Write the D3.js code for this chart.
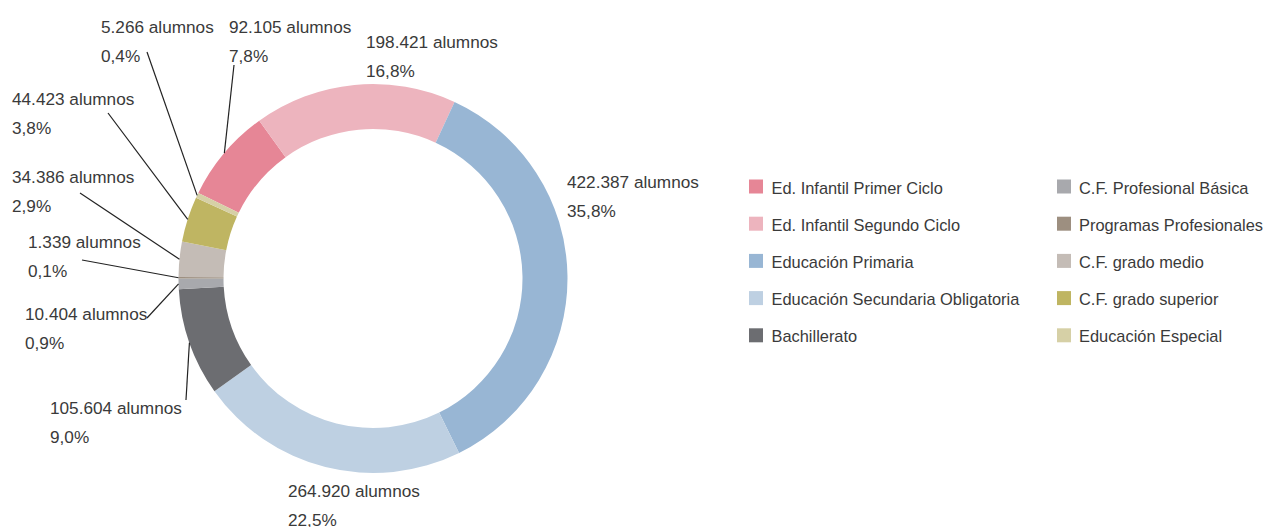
<!DOCTYPE html>
<html>
<head>
<meta charset="utf-8">
<script src="https://cdn.jsdelivr.net/npm/d3@7"></script>
<style>
  body { margin: 0; background: #fff; }
  text { font-family: "Liberation Sans", Arial, sans-serif; fill: #3a3a3a; }
</style>
</head>
<body>
<div id="chart"></div>
<script>
// data
const categories = ["Ed. Infantil Primer Ciclo", "Ed. Infantil Segundo Ciclo", "Educación Primaria",
  "Educación Secundaria Obligatoria", "Bachillerato", "C.F. Profesional Básica",
  "Programas Profesionales", "C.F. grado medio", "C.F. grado superior", "Educación Especial"];
const alumnos = [92105, 198421, 422387, 264920, 105604, 10404, 1339, 34386, 44423, 5266];
const colors = ["#e68696", "#edb4be", "#98b6d4", "#bed0e2", "#6c6d71",
  "#a8a9ad", "#9d8f80", "#c4bcb6", "#bfb562", "#d6d0a6"];

// hand placed label anchors (text x, first baseline y, leader start or null)
const labelPos = [
  {x: 229, y: 33, lx: 234, ly: 65},
  {x: 366, y: 48, lx: null},
  {x: 567, y: 188, lx: null},
  {x: 288, y: 497, lx: null},
  {x: 50, y: 414, lx: 186, ly: 400},
  {x: 25, y: 320, lx: 147, ly: 318},
  {x: 28, y: 248, lx: 82, ly: 260},
  {x: 12, y: 183, lx: 80, ly: 193},
  {x: 12, y: 105, lx: 108, ly: 113},
  {x: 101, y: 33, lx: 147, ly: 52}
];

const width = 1268, height = 527;
const cx = 373, cy = 278.5, rOuter = 194.5, rInner = 149.5;

const es = d3.formatLocale({decimal: ",", thousands: ".", grouping: [3], currency: ["", " €"]});
const fmtNum = es.format(",d");
const fmtPct = es.format(".1f");
const total = d3.sum(alumnos);

const svg = d3.select("#chart").append("svg")
  .attr("width", width).attr("height", height);

const pie = d3.pie().sort(null).value(d => d)
  .startAngle(-63.9 * Math.PI / 180)
  .endAngle((360 - 63.9) * Math.PI / 180);
const arcs = pie(alumnos);
const arc = d3.arc().innerRadius(rInner).outerRadius(rOuter);

const g = svg.append("g").attr("transform", `translate(${cx},${cy})`);
g.selectAll("path")
  .data(arcs)
  .join("path")
  .attr("d", arc)
  .attr("fill", (d, i) => colors[i]);

// leader lines
arcs.forEach((d, i) => {
  const p = labelPos[i];
  if (p.lx == null) return;
  const a = (d.startAngle + d.endAngle) / 2;
  svg.append("line")
    .attr("x1", p.lx).attr("y1", p.ly)
    .attr("x2", cx + rOuter * Math.sin(a))
    .attr("y2", cy - rOuter * Math.cos(a))
    .attr("stroke", "#222")
    .attr("stroke-width", 1.2);
});

// labels
const labels = svg.selectAll("text.lbl")
  .data(arcs)
  .join("text")
  .attr("class", "lbl")
  .style("font-size", "17.2px");
labels.append("tspan")
  .attr("x", (d, i) => labelPos[i].x)
  .attr("y", (d, i) => labelPos[i].y)
  .text(d => fmtNum(d.data) + " alumnos");
labels.append("tspan")
  .attr("x", (d, i) => labelPos[i].x)
  .attr("y", (d, i) => labelPos[i].y + 29)
  .text(d => fmtPct(d.data / total * 100) + "%");

// legend
const legend = svg.append("g");
const item = legend.selectAll("g")
  .data(categories)
  .join("g")
  .attr("transform", (d, i) => `translate(${i < 5 ? 749 : 1057},${179.5 + (i % 5) * 37.2})`);
item.append("rect")
  .attr("width", 14).attr("height", 14)
  .attr("fill", (d, i) => colors[i]);
item.append("text")
  .attr("x", (d, i) => i < 5 ? 22.5 : 22)
  .attr("y", 14)
  .style("font-size", "16.4px")
  .text(d => d);
</script>
</body>
</html>
